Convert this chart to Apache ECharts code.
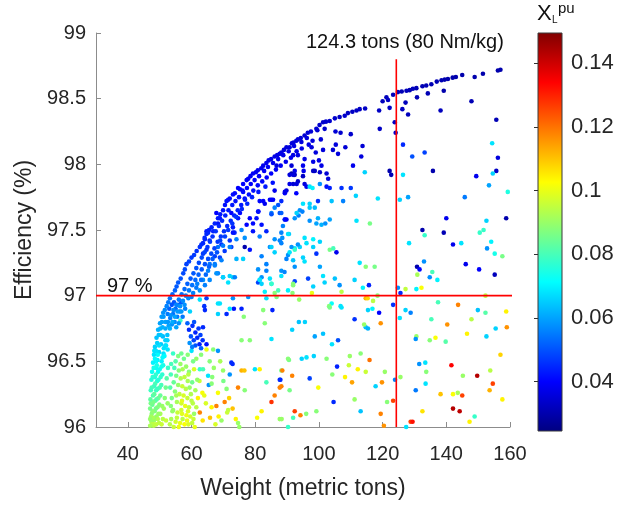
<!DOCTYPE html>
<html>
<head>
<meta charset="utf-8">
<script src="https://cdn.jsdelivr.net/npm/echarts@6/dist/echarts.min.js"></script>
<style>
  html, body { margin: 0; padding: 0; background: #ffffff; }
  #chart { width: 618px; height: 505px; }
</style>
</head>
<body>
<div id="chart"></div>
<script>
// Axis ranges and tick values
const weightRange = [30, 160];
const efficiencyRange = [96, 99];
const reactanceRange = [0.0245, 0.1495];
const weightTicks = [40, 60, 80, 100, 120, 140, 160];
const efficiencyTicks = [96, 96.5, 97, 97.5, 98, 98.5, 99];
const reactanceTicks = [0.04, 0.06, 0.08, 0.1, 0.12, 0.14];

// Design limits
const efficiencyLimit = 97;
const weightLimit = 124.3;

// Designs: [weight (t), efficiency (%), X_L (pu)]
// Upper-left (Pareto) edge
const paretoEdge = [
  [157.0,98.72,0.030],[156.2,98.715,0.030],[151.5,98.69,0.030],[148.9,98.665,0.030],[145.0,98.68,0.030],
  [143.0,98.665,0.030],[142.0,98.66,0.030],[140.5,98.65,0.030],[139.5,98.645,0.030],[138.5,98.64,0.031],
  [137.0,98.63,0.031],[135.3,98.61,0.031],[133.7,98.60,0.031],[132.5,98.595,0.031],[130.6,98.58,0.031],
  [129.5,98.575,0.032],[128.5,98.565,0.031],[127.5,98.56,0.032],[126.0,98.555,0.031],[124.8,98.55,0.032],
  [123.3,98.53,0.032],[121.2,98.51,0.032],[121.7,98.49,0.033],[120.0,98.48,0.032],[118.9,98.41,0.033],
  [122.2,98.43,0.033],[114.5,98.425,0.033],[112.8,98.42,0.033],[111.8,98.41,0.033],[110.5,98.40,0.033],
  [109.1,98.39,0.033],[108.1,98.37,0.034],[106.5,98.36,0.033],[105.0,98.35,0.034],[103.4,98.33,0.034],
  [102.2,98.325,0.034],[101.3,98.32,0.034],[100.2,98.30,0.034],[99.2,98.27,0.035],[97.5,98.25,0.035],
  [96.5,98.24,0.035],[95.5,98.22,0.035],[94.3,98.20,0.035],[93.4,98.19,0.035],[92.9,98.18,0.036],
  [92.0,98.165,0.036],[91.5,98.16,0.036],[90.8,98.13,0.036],[89.8,98.13,0.036],[89.0,98.11,0.036],
  [88.2,98.09,0.037],[87.7,98.08,0.037],[86.9,98.07,0.037],[86.1,98.06,0.037],[85.0,98.04,0.037],
  [84.2,98.03,0.037],[83.5,98.01,0.038],[82.5,97.99,0.038],[81.9,97.97,0.038],[80.8,97.955,0.038],
  [80.2,97.94,0.038],[79.3,97.93,0.039],[78.5,97.91,0.039],[77.8,97.89,0.039],[77.3,97.88,0.039],
  [76.2,97.85,0.040],[75.2,97.81,0.040],[74.6,97.82,0.040],[73.6,97.78,0.041],[73.0,97.77,0.041],
  [72.0,97.74,0.041],[71.0,97.72,0.042],[70.5,97.69,0.042],[69.9,97.65,0.042],[69.0,97.62,0.043],
  [68.3,97.59,0.043],[67.3,97.55,0.044],[66.3,97.52,0.044],[65.5,97.50,0.044],[64.7,97.47,0.045],
  [64.1,97.44,0.045],[63.6,97.40,0.045],[62.6,97.37,0.046],[61.6,97.34,0.046],[60.8,97.31,0.047],
  [60.0,97.29,0.047],[59.2,97.26,0.048],[58.4,97.24,0.048],[57.9,97.20,0.049],[57.4,97.17,0.049],
  [56.6,97.13,0.050],[55.8,97.10,0.051],[55.3,97.07,0.051],[54.8,97.04,0.052],[54.0,97.01,0.053],
  [53.2,96.98,0.054],[52.7,96.95,0.055],[52.2,96.92,0.056],[51.6,96.89,0.057],[51.1,96.87,0.058],
  [50.6,96.84,0.059],[50.1,96.79,0.060],[49.5,96.74,0.062],[49.0,96.68,0.064],[48.5,96.61,0.066],
  [48.2,96.55,0.068],[47.9,96.49,0.070],[47.6,96.42,0.073],[47.4,96.36,0.076],[47.2,96.28,0.079],
  [47.1,96.21,0.083],[47.0,96.14,0.086],[47.0,96.06,0.090],[47.0,96.01,0.092]
];

// Designs packed just inside the edge
const edgeBand = [
  [96.2,98.20,0.036],[94.5,98.17,0.036],[92.2,98.14,0.037],[90.5,98.10,0.037],[88.8,98.07,0.037],
  [87.2,98.04,0.038],[85.6,98.01,0.038],[84.0,97.98,0.039],[82.8,97.95,0.039],[81.2,97.91,0.039],
  [79.8,97.88,0.040],[78.6,97.85,0.040],[77.4,97.82,0.041],[76.2,97.79,0.041],[74.9,97.75,0.042],
  [73.8,97.72,0.042],[72.8,97.69,0.043],[71.6,97.65,0.043],[70.6,97.61,0.044],[69.6,97.57,0.045],
  [68.6,97.53,0.045],[67.6,97.49,0.046],[66.6,97.45,0.046],[65.8,97.41,0.047],[65.0,97.37,0.047],
  [64.1,97.33,0.048],[63.2,97.29,0.049],[62.3,97.25,0.049],[61.5,97.21,0.050],[60.6,97.17,0.051],
  [59.7,97.13,0.051],[58.7,97.09,0.052],[57.8,97.05,0.053],[56.9,97.01,0.054],[56.0,96.97,0.055],
  [55.2,96.93,0.056],[54.3,96.89,0.057],[53.5,96.85,0.058],[52.6,96.80,0.059],[51.8,96.75,0.061],
  [51.0,96.69,0.063],[50.4,96.63,0.065],[49.8,96.57,0.067],[49.3,96.51,0.069],[48.9,96.45,0.072],
  [48.5,96.38,0.075],[48.2,96.31,0.078],[47.9,96.24,0.081],[47.7,96.17,0.084],[47.5,96.10,0.088],
  [47.4,96.04,0.091],
  [49.2,96.35,0.075],[49.5,96.42,0.072],[48.9,96.28,0.079],[48.6,96.20,0.083],[48.4,96.12,0.087],
  [48.2,96.05,0.090],[48.1,96.01,0.093],[49.0,96.08,0.091],[49.3,96.15,0.088],[49.6,96.22,0.085],
  [50.0,96.30,0.081],[50.3,96.38,0.078],[50.6,96.46,0.074],[50.9,96.53,0.071],[51.3,96.60,0.068],
  [51.8,96.66,0.066],[49.8,96.03,0.094],[50.2,96.10,0.092],[50.6,96.02,0.096],[48.0,96.02,0.095],
  [98.0,98.18,0.036],[96.8,98.15,0.037],[94.6,98.12,0.037],[93.0,98.10,0.037],[91.2,98.05,0.038],
  [89.6,98.02,0.038],[88.0,97.99,0.039],[86.5,97.96,0.039],[85.0,97.93,0.040],[83.6,97.90,0.040],
  [82.2,97.87,0.041],[80.8,97.84,0.041],[79.4,97.80,0.042],[78.0,97.77,0.042],[76.8,97.73,0.043],
  [75.6,97.69,0.043],[74.5,97.65,0.044],[73.4,97.61,0.044],[72.3,97.57,0.045],[71.2,97.53,0.045],
  [70.2,97.49,0.046],[69.2,97.45,0.047],[68.2,97.41,0.047],[67.2,97.36,0.048],[66.2,97.32,0.049],
  [65.2,97.28,0.049],[64.2,97.24,0.050],[63.2,97.20,0.051],[62.2,97.16,0.052],[61.2,97.12,0.053],
  [60.2,97.08,0.054],[59.2,97.04,0.055],[58.2,97.00,0.056],[57.3,96.96,0.057],[56.4,96.92,0.058],
  [55.6,96.88,0.059],[54.8,96.84,0.060],[54.0,96.80,0.061],[53.2,96.75,0.062],[52.4,96.70,0.064],
  [51.8,96.62,0.066],[51.2,96.56,0.068],[50.6,96.50,0.070],[50.0,96.44,0.073],[49.6,96.36,0.076],
  [49.3,96.29,0.079],[49.0,96.21,0.082],[48.8,96.14,0.086],[48.6,96.07,0.089],
  [85.5,97.86,0.042],[83.2,97.83,0.043],[81.0,97.79,0.043],[79.0,97.75,0.044],[77.5,97.70,0.045],
  [75.8,97.66,0.045],[74.0,97.60,0.046],[72.8,97.55,0.046],[71.5,97.50,0.047],[70.5,97.45,0.048],
  [69.0,97.42,0.048],[68.0,97.33,0.050],[66.6,97.28,0.051],[65.5,97.22,0.052],[64.5,97.16,0.053],
  [63.0,97.12,0.054],[61.5,97.06,0.055],[60.5,97.02,0.056],[59.0,96.98,0.057],[57.8,96.93,0.058],
  [56.8,96.88,0.059],[58.0,96.90,0.056],
  [47.3,96.08,0.091],[47.6,96.02,0.094],[47.8,96.12,0.089],[48.0,96.19,0.086],[48.3,96.25,0.083],
  [48.6,96.33,0.080],[48.8,96.40,0.077],[49.1,96.47,0.074],[49.4,96.55,0.071],[49.8,96.62,0.068],
  [50.3,96.70,0.065],[50.9,96.76,0.062],[47.5,96.30,0.080],[47.8,96.38,0.077],[48.1,96.45,0.074],
  [48.5,96.52,0.071],[48.8,96.58,0.068],[49.2,96.64,0.066],[49.7,96.70,0.064],[50.2,96.75,0.062],
  [50.7,96.80,0.060],[51.2,96.84,0.059],[49.6,96.10,0.090],[49.9,96.17,0.087],[50.2,96.24,0.084],
  [50.5,96.32,0.080],[50.8,96.40,0.077],[51.1,96.47,0.074],[51.5,96.54,0.071],[52.0,96.62,0.068],
  [52.4,96.66,0.066],[51.0,96.06,0.094],[51.3,96.14,0.091],[51.6,96.22,0.088],[51.9,96.30,0.085],
  [52.2,96.37,0.082],[52.6,96.45,0.078],[47.2,96.18,0.086],[47.9,96.07,0.092],[48.9,96.02,0.095],
  [49.4,96.06,0.093],[50.8,96.16,0.090],[52.0,96.05,0.096],[52.5,96.18,0.090],[48.3,96.58,0.068],
  [48.9,96.50,0.071]
];

// Dense groups of light designs
const lightClusters = [
  [53.0,96.90,0.052],[53.8,96.93,0.050],[54.5,96.95,0.050],[55.0,96.90,0.053],[54.2,96.86,0.054],
  [53.3,96.83,0.055],[52.5,96.86,0.055],[55.8,96.93,0.051],[56.3,96.88,0.054],[55.5,96.84,0.055],
  [54.7,96.80,0.057],[53.8,96.78,0.058],[52.8,96.77,0.060],[56.8,96.95,0.050],[57.2,96.84,0.055],
  [51.8,96.80,0.060],[56.0,96.79,0.058],[55.2,96.76,0.060],
  [59.2,96.74,0.045],[60.3,96.77,0.046],[61.2,96.72,0.044],[62.2,96.75,0.047],[61.8,96.68,0.045],
  [60.7,96.66,0.048],[59.8,96.69,0.050],[62.8,96.70,0.048],[63.5,96.66,0.046],[62.5,96.63,0.044],
  [61.2,96.62,0.050],[60.2,96.61,0.055],[59.4,96.64,0.058],[63.0,96.60,0.052],[64.7,96.63,0.042],
  [58.7,96.79,0.052],[60.8,96.80,0.050],[63.6,96.76,0.045],
  [55.8,96.54,0.087],[55.0,96.50,0.082],[56.5,96.48,0.090],[57.6,96.52,0.085],[54.6,96.45,0.080],
  [56.0,96.43,0.088],[57.2,96.44,0.092],[58.3,96.46,0.090],[59.2,96.42,0.088],[55.2,96.39,0.086],
  [56.6,96.37,0.093],[57.8,96.38,0.095],[58.8,96.35,0.092],[54.4,96.34,0.084],[55.8,96.32,0.090],
  [57.1,96.31,0.096],[58.2,96.29,0.094],[59.4,96.30,0.090],[60.2,96.34,0.085],[54.8,96.27,0.088],
  [56.2,96.25,0.095],[57.5,96.24,0.098],[58.7,96.22,0.096],[59.8,96.25,0.093],[53.8,96.22,0.086],
  [55.4,96.19,0.092],[56.8,96.18,0.097],[58.0,96.16,0.100],[59.2,96.15,0.096],[60.4,96.18,0.094],
  [54.2,96.13,0.090],[55.6,96.11,0.096],[57.0,96.10,0.099],[58.4,96.09,0.101],[59.6,96.08,0.097],
  [53.6,96.06,0.092],[55.0,96.04,0.097],[56.4,96.03,0.100],[57.8,96.02,0.102],[59.0,96.02,0.098],
  [60.2,96.03,0.095],[54.4,96.00,0.096],[57.2,96.06,0.094],[60.8,96.10,0.090],[53.3,96.30,0.082],
  [53.5,96.40,0.080],[60.8,96.44,0.098],[61.2,96.28,0.092],
  [53.6,96.48,0.080],[54.2,96.56,0.078],[56.8,96.56,0.085],[58.8,96.55,0.088],[54.0,96.12,0.090],
  [55.4,96.07,0.095],[56.8,96.13,0.097],[58.9,96.12,0.098],[60.0,96.20,0.094],[59.0,96.40,0.094],
  [57.0,96.20,0.099],[55.2,96.24,0.092],[53.5,96.16,0.088],[56.0,96.00,0.100],[58.6,96.05,0.100],
  [60.6,96.06,0.096],[61.5,96.15,0.094],[61.8,96.36,0.090],[60.5,96.50,0.086],[53.2,96.02,0.094]
];

// Remaining designs across the field
const spreadDesigns = [
  [139.2,98.56,0.030],[147.9,98.48,0.031],[155.7,98.34,0.031],[128.0,98.38,0.032],[127.2,98.47,0.032],
  [126.2,98.42,0.033],[130.8,98.51,0.031],[134.2,98.54,0.031],[138.2,98.41,0.032],[119.1,98.27,0.033],
  [123.8,98.32,0.033],[124.1,98.24,0.034],[126.4,98.15,0.045],[129.3,98.06,0.050],[133.2,98.09,0.048],
  [135.8,97.95,0.030],[149.4,97.91,0.038],[156.2,98.05,0.036],[155.7,97.95,0.033],[154.4,98.16,0.068],
  [154.6,97.93,0.066],[114.4,97.94,0.066],[126.4,97.92,0.068],[122.2,97.95,0.030],[122.7,97.92,0.031],
  [113.3,98.06,0.036],[110.7,97.99,0.038],[113.7,98.14,0.035],[110.0,98.23,0.034],[108.3,98.13,0.035],
  [106.0,98.08,0.036],[104.4,98.11,0.035],[105.3,98.15,0.036],[106.8,98.24,0.034],[105.2,98.25,0.035],
  [101.8,98.27,0.034],[99.5,98.26,0.035],[100.6,98.19,0.035],[101.3,98.11,0.036],[100.0,98.03,0.037],
  [100.8,97.99,0.037],[97.7,98.13,0.036],[99.0,98.09,0.036],[98.2,98.02,0.037],[95.5,98.04,0.037],
  [95.0,97.99,0.038],[95.2,97.95,0.038],[91.9,98.07,0.037],[93.4,98.07,0.037],[92.4,97.95,0.038],
  [91.4,97.93,0.030],[98.7,97.95,0.034],[102.4,97.93,0.035],
  [92.4,97.92,0.032],[95.0,97.91,0.033],[93.4,97.87,0.034],[91.9,97.85,0.035],[95.5,97.85,0.036],
  [96.1,97.83,0.038],[89.8,97.80,0.036],[89.3,97.78,0.040],[92.9,97.78,0.040],[98.2,97.95,0.033],
  [100.3,97.94,0.034],[102.9,97.89,0.036],[97.1,97.83,0.068],[98.0,97.82,0.070],[100.3,97.85,0.058],
  [102.4,97.83,0.042],[103.4,97.82,0.044],[107.1,97.82,0.046],[110.0,97.82,0.047],[153.4,97.84,0.060],
  [159.3,97.79,0.075],[145.8,97.75,0.055],[128.0,97.75,0.060],[125.4,97.73,0.066],[118.5,97.74,0.068],
  [111.6,97.76,0.066],[107.6,97.72,0.056],[104.0,97.72,0.064],[99.7,97.72,0.046],[97.1,97.70,0.066],
  [95.0,97.70,0.068],[88.2,97.72,0.045],[94.0,97.65,0.058],[94.8,97.64,0.056],[97.1,97.67,0.065],
  [98.7,97.67,0.063],[87.7,97.63,0.050],[92.4,97.59,0.058],[93.6,97.61,0.056],[89.3,97.58,0.046],
  [97.1,97.57,0.058],[99.7,97.59,0.062],[99.2,97.55,0.060],[100.8,97.54,0.062],[102.0,97.55,0.058],
  [103.4,97.58,0.060],[88.7,97.53,0.056],[111.8,97.57,0.068],[116.0,97.55,0.086],[140.0,97.59,0.038],
  [158.8,97.59,0.030],[152.6,97.57,0.066],[132.5,97.50,0.030],[139.2,97.48,0.031],[151.7,97.50,0.078],
  [150.5,97.48,0.078],[133.2,97.46,0.078],[90.6,97.47,0.065],[95.5,97.44,0.068],[98.2,97.43,0.070],
  [100.3,97.41,0.066],[96.1,97.40,0.068],[94.0,97.37,0.066],[92.4,97.36,0.068],[98.2,97.37,0.066],
  [88.2,97.40,0.056],[103.4,97.35,0.086],[104.5,97.36,0.080],[105.5,97.33,0.038],[99.2,97.32,0.046],
  [90.3,97.31,0.058],[95.0,97.29,0.066],[95.5,97.26,0.068],[91.9,97.27,0.064],[128.3,97.40,0.068],
  [142.1,97.39,0.038],[144.7,97.40,0.068],[152.8,97.36,0.058],[154.1,97.41,0.070],[155.2,97.32,0.074],
  [157.6,97.30,0.086],[112.8,97.25,0.068],[114.7,97.22,0.088],[117.5,97.22,0.086],[133.0,97.26,0.058],
  [130.8,97.22,0.030],[131.6,97.20,0.040],[130.9,97.16,0.092],[135.6,97.18,0.080],[134.8,97.14,0.058],
  [137.2,97.12,0.070],[146.1,97.24,0.038],[150.3,97.20,0.040],[155.2,97.16,0.032],[88.2,97.19,0.058],
  [89.2,97.18,0.056],[92.4,97.22,0.058],[100.3,97.22,0.060],[96.6,97.13,0.048],[101.3,97.15,0.068],
  [105.0,97.13,0.064],[101.8,97.10,0.066],[92.4,97.11,0.048],[91.9,97.09,0.088],[98.2,97.07,0.066],
  [106.5,97.08,0.058],[111.2,97.12,0.066],[115.7,97.08,0.044],[113.8,97.06,0.070],[107.1,97.03,0.094],
  [97.8,97.02,0.100],[91.7,97.02,0.088],[124.8,97.06,0.058],[127.2,97.05,0.095],[130.6,97.05,0.070],
  [132.2,97.06,0.102],[125.6,97.02,0.045],[114.7,96.98,0.112],[115.3,96.98,0.108],[117.0,96.96,0.094],
  [118.4,97.00,0.088],[93.8,96.97,0.090],[106.8,96.92,0.068],[104.0,96.94,0.072],[103.2,96.92,0.088],
  [123.3,96.93,0.046],[115.4,96.89,0.066],[116.8,96.90,0.070],[118.9,96.87,0.040],[127.2,96.89,0.066],
  [128.8,96.87,0.056],[137.4,96.95,0.080],[143.7,96.93,0.118],[149.9,96.89,0.064],[152.3,96.87,0.082],
  [152.3,97.00,0.094],[158.8,96.88,0.104],
  [103.4,96.91,0.086],[107.1,96.91,0.068],[135.3,96.82,0.080],[140.3,96.78,0.116],[147.9,96.82,0.094],
  [159.0,96.76,0.116],[155.5,96.75,0.066],[146.5,96.71,0.104],[152.6,96.69,0.066],[139.8,96.65,0.082],
  [136.6,96.68,0.102],[134.8,96.66,0.088],[130.6,96.69,0.090],[130.4,96.67,0.058],[125.4,96.83,0.068],
  [119.4,96.79,0.116],[114.7,96.76,0.064],[115.4,96.75,0.062],[114.2,96.78,0.090],[111.2,96.82,0.046],
  [93.7,96.80,0.064],[95.6,96.80,0.066],[91.6,96.74,0.066],[101.3,96.71,0.064],[98.7,96.69,0.060],
  [106.0,96.66,0.050],[104.1,96.63,0.068],[109.7,96.54,0.090],[113.1,96.56,0.088],[115.9,96.51,0.120],
  [98.4,96.54,0.066],[96.1,96.53,0.068],[94.6,96.52,0.066],[90.6,96.51,0.086],[102.4,96.52,0.088],
  [105.7,96.46,0.044],[109.4,96.47,0.096],[112.2,96.44,0.104],[114.7,96.42,0.096],[104.2,96.40,0.088],
  [108.2,96.38,0.104],[110.4,96.34,0.114],[91.6,96.39,0.118],[88.2,96.43,0.086],[87.7,96.36,0.045],
  [97.1,96.37,0.048],[99.8,96.30,0.102],[90.8,96.28,0.086],[87.7,96.30,0.118],[117.8,96.31,0.066],
  [119.8,96.34,0.116],[120.7,96.42,0.090],[123.9,96.36,0.056],[125.6,96.38,0.090],[130.4,96.28,0.055],
  [131.5,96.48,0.058],[133.4,96.49,0.068],[133.7,96.42,0.088],[133.5,96.33,0.068],[141.6,96.47,0.134],
  [145.2,96.39,0.090],[149.7,96.39,0.143],[153.8,96.43,0.094],[157.0,96.55,0.108],[154.6,96.33,0.126],
  [153.6,96.28,0.112],[157.6,96.21,0.104],[138.2,96.25,0.110],[142.1,96.25,0.102],[143.6,96.26,0.092],
  [145.0,96.24,0.126],[142.1,96.14,0.143],[144.2,96.12,0.142],[148.9,96.08,0.078],[147.3,96.04,0.104],
  [132.5,96.12,0.106],[128.8,96.04,0.126],[127.4,96.00,0.068],[120.4,96.01,0.116],[119.4,96.10,0.118],
  [123.3,96.20,0.126],[121.4,96.19,0.088],[113.1,96.12,0.064],[111.2,96.21,0.090],[104.6,96.19,0.045],
  [99.2,96.12,0.088],[92.4,96.12,0.126],[94.2,96.09,0.118],[96.0,96.10,0.088],[91.9,96.07,0.080],
  [87.7,96.06,0.090],[90.3,96.00,0.078],
  [59.5,96.88,0.066],[64.2,96.89,0.045],[64.0,96.92,0.046],[68.3,96.86,0.066],[71.0,96.86,0.045],
  [73.3,96.90,0.042],[75.7,96.90,0.044],[76.4,96.84,0.088],[82.5,96.89,0.088],[85.4,96.89,0.044],
  [83.0,96.79,0.088],[56.5,96.81,0.078],[66.8,96.59,0.088],[60.0,96.58,0.068],[68.3,96.58,0.058],
  [75.7,96.66,0.088],[78.3,96.66,0.088],[85.1,96.67,0.068],[52.5,96.59,0.068],[62.6,96.44,0.078],
  [63.6,96.44,0.080],[72.9,96.48,0.045],[69.9,96.43,0.090],[75.7,96.43,0.112],[76.6,96.43,0.110],
  [79.9,96.44,0.068],[81.4,96.44,0.104],[88.5,96.43,0.118],[90.3,96.52,0.088],[65.2,96.39,0.068],
  [66.5,96.38,0.088],[65.4,96.32,0.058],[71.0,96.29,0.088],[74.6,96.30,0.118],[76.7,96.28,0.088],
  [63.4,96.26,0.102],[64.0,96.24,0.100],[68.3,96.26,0.102],[83.5,96.34,0.080],[87.9,96.36,0.045],
  [88.2,96.31,0.118],[86.1,96.24,0.118],[85.1,96.19,0.128],[70.4,96.19,0.118],[67.8,96.16,0.118],
  [66.3,96.15,0.104],[71.2,96.11,0.096],[72.9,96.14,0.110],[73.9,96.06,0.104],[74.6,96.03,0.090],
  [62.6,96.11,0.118],[69.4,96.05,0.090],[82.0,96.12,0.104],[80.6,96.07,0.102],[88.3,96.06,0.090],
  [75.0,96.00,0.090],[129.4,96.04,0.132],[64.7,96.59,0.100],[65.7,96.50,0.088],[72.5,96.49,0.045],
  [72.0,96.40,0.058],[66.3,96.33,0.088],[71.5,96.13,0.095],
  [61.5,96.52,0.090],[62.5,96.35,0.096],[63.5,96.05,0.106],[64.5,96.18,0.098],[65.8,96.07,0.110],
  [67.0,96.45,0.090],[68.5,96.08,0.104],[70.0,96.35,0.086],[62.0,96.22,0.104],[63.0,96.55,0.088],
  [69.0,96.50,0.092],[71.8,96.22,0.108],[61.0,96.00,0.100],[67.5,96.02,0.098],
  [71.5,97.73,0.042],[64.7,97.49,0.043],[67.8,97.63,0.040],[68.9,97.59,0.042],[68.3,97.55,0.042],
  [66.8,97.49,0.044],[65.2,97.48,0.045],[64.2,97.43,0.044],[65.7,97.42,0.045],[63.1,97.39,0.046],
  [64.7,97.35,0.046],[63.6,97.32,0.047],[67.3,97.30,0.048],[68.9,97.29,0.048],[65.7,97.24,0.054],
  [67.3,97.24,0.055],[68.3,97.17,0.056],[69.9,97.14,0.058],[65.7,97.12,0.057],[63.6,97.12,0.058],
  [72.5,97.63,0.040],[75.2,97.63,0.041],[74.6,97.59,0.042],[73.0,97.52,0.043],[73.5,97.48,0.044],
  [72.0,97.42,0.046],[72.5,97.37,0.047],[69.4,97.39,0.046],[70.4,97.34,0.047],[76.7,97.44,0.058],
  [76.7,97.37,0.030],[78.3,97.35,0.042],[74.1,97.28,0.062],[76.2,97.28,0.066],[78.3,97.59,0.040],
  [79.3,97.55,0.041],[81.0,97.64,0.040],[83.0,97.70,0.038],[85.1,97.73,0.038],[82.0,97.54,0.042],
  [83.5,97.49,0.044],[85.1,97.63,0.056],[88.2,97.63,0.052],[87.2,97.69,0.050],[89.3,97.58,0.042],
  [86.1,97.43,0.058],[84.6,97.37,0.058],[87.7,97.42,0.056],[90.3,97.47,0.068],[91.4,97.37,0.058],
  [93.4,97.39,0.058],[93.0,97.63,0.066],[80.9,97.20,0.058],[82.0,97.14,0.058],[83.5,97.19,0.056],
  [81.4,97.12,0.068],[73.0,97.14,0.066],[71.5,97.10,0.068],[80.9,97.10,0.048],[84.6,97.13,0.068],
  [85.1,97.09,0.070],[88.2,97.15,0.068],[90.3,97.04,0.070],[91.9,97.08,0.088],[87.2,97.04,0.080],
  [86.7,96.99,0.086],[90.8,97.33,0.068],[92.4,97.35,0.078],[83.0,97.03,0.070],[77.8,96.99,0.058],
  [73.0,96.98,0.058],[68.9,96.94,0.068],
  [76.0,97.80,0.040],[76.7,97.74,0.041],[82.5,97.72,0.040],[85.6,97.73,0.040],[89.3,97.79,0.038],
  [89.8,97.58,0.040],[86.1,97.67,0.056],[85.1,97.62,0.050],[80.9,97.64,0.042],[80.4,97.59,0.042],
  [77.3,97.54,0.040],[75.7,97.50,0.056],[79.3,97.49,0.042],[81.4,97.45,0.056],[88.2,97.48,0.056],
  [88.5,97.44,0.058],[73.0,97.48,0.042],[74.1,97.43,0.056],[72.0,97.37,0.056],[68.3,97.37,0.054],
  [69.9,97.38,0.055],[85.1,97.37,0.066],[86.1,97.33,0.066],[82.0,97.30,0.056],[83.5,97.24,0.056],
  [89.8,97.28,0.056],[69.4,97.27,0.056],[67.3,97.23,0.056],[65.2,97.19,0.056],[67.8,97.17,0.058],
  [72.0,97.15,0.066],[73.6,97.14,0.056],[69.9,97.14,0.066],[64.2,97.08,0.056],[61.8,97.09,0.056],
  [62.6,97.04,0.058],[81.4,97.12,0.068],[82.0,97.09,0.066],[85.1,97.09,0.078],[86.1,97.02,0.088],
  [83.5,96.98,0.068],[68.3,96.94,0.068],[72.0,96.90,0.068],[62.6,96.97,0.068],[60.0,96.99,0.056],
  [64.7,96.98,0.048],
  [86.7,97.99,0.036],[91.4,97.99,0.035],[91.9,97.92,0.036],[90.8,97.85,0.037],[93.0,97.85,0.036],
  [86.1,97.80,0.038],[84.6,97.73,0.040],[81.4,97.72,0.041],[90.8,97.92,0.036]
];

// MATLAB-style jet colour scale
const jetColors = ['#000080', '#0000ff', '#0080ff', '#00ffff', '#80ff80', '#ffff00', '#ff8000', '#ff0000', '#800000'];

const textColor = '#262626';
const axisColor = '#8c8c8c';
const fontFamily = '"Liberation Sans", Arial, Helvetica, sans-serif';

const chart = echarts.init(document.getElementById('chart'), null, { renderer: 'canvas' });

const gradientStops = jetColors.map((c, i) => ({ offset: i / (jetColors.length - 1), color: c }));

const option = {
  backgroundColor: '#ffffff',
  animation: false,
  textStyle: { fontFamily: fontFamily },
  grid: [
    { left: 96, top: 33, width: 414, height: 399 },
    { left: 538, top: 33, width: 24, height: 398 }
  ],
  xAxis: [
    {
      gridIndex: 0, type: 'value', min: weightRange[0], max: weightRange[1],
      name: 'Weight (metric tons)', nameLocation: 'middle', nameGap: 50,
      nameTextStyle: { color: textColor, fontSize: 23, fontFamily: fontFamily },
      axisLine: { show: true, lineStyle: { color: axisColor, width: 1 } },
      axisTick: { show: true, inside: true, length: 5, lineStyle: { color: axisColor }, customValues: weightTicks },
      axisLabel: { color: textColor, fontSize: 20, margin: 17, fontFamily: fontFamily, customValues: weightTicks },
      splitLine: { show: false }
    },
    { gridIndex: 1, type: 'value', min: 0, max: 1, show: false }
  ],
  yAxis: [
    {
      gridIndex: 0, type: 'value', min: efficiencyRange[0], max: efficiencyRange[1], interval: 0.5,
      name: 'Efficiency (%)', nameLocation: 'middle', nameGap: 57, nameRotate: 90,
      nameTextStyle: { color: textColor, fontSize: 23, fontFamily: fontFamily },
      axisLine: { show: true, lineStyle: { color: axisColor, width: 1 } },
      axisTick: { show: true, inside: true, length: 5, lineStyle: { color: axisColor } },
      axisLabel: { color: textColor, fontSize: 20, margin: 10, fontFamily: fontFamily,
        formatter: v => String(v) },
      splitLine: { show: false }
    },
    {
      gridIndex: 1, type: 'value', position: 'right',
      min: reactanceRange[0], max: reactanceRange[1],
      axisLine: { show: false },
      axisTick: { show: true, inside: true, length: 4, lineStyle: { color: '#303030' }, customValues: reactanceTicks },
      axisLabel: { color: textColor, fontSize: 22, margin: 9, fontFamily: fontFamily,
        customValues: reactanceTicks, formatter: v => String(+v.toFixed(2)) },
      splitLine: { show: false }
    }
  ],
  visualMap: {
    show: false, type: 'continuous', seriesIndex: [0, 1, 2, 3], dimension: 2,
    min: reactanceRange[0], max: reactanceRange[1],
    inRange: { color: jetColors }
  },
  series: [
    { type: 'scatter', xAxisIndex: 0, yAxisIndex: 0, data: spreadDesigns, symbolSize: 4.6, itemStyle: { opacity: 1 } },
    { type: 'scatter', xAxisIndex: 0, yAxisIndex: 0, data: lightClusters, symbolSize: 4.6, itemStyle: { opacity: 1 } },
    { type: 'scatter', xAxisIndex: 0, yAxisIndex: 0, data: edgeBand, symbolSize: 4.6, itemStyle: { opacity: 1 } },
    { type: 'scatter', xAxisIndex: 0, yAxisIndex: 0, data: paretoEdge, symbolSize: 4.6, itemStyle: { opacity: 1 } },
    {
      // 97 % efficiency limit
      type: 'line', xAxisIndex: 0, yAxisIndex: 0, clip: false, symbol: 'none', silent: true,
      data: [[weightRange[0], efficiencyLimit], [171.8, efficiencyLimit]],
      lineStyle: { color: '#ff0000', width: 1.6 }, z: 5
    },
    {
      // 124.3 t weight limit
      type: 'line', xAxisIndex: 0, yAxisIndex: 0, clip: false, symbol: 'none', silent: true,
      data: [[weightLimit, efficiencyRange[0]], [weightLimit, 98.8]],
      lineStyle: { color: '#ff0000', width: 1.6 }, z: 5
    },
    {
      // colour bar
      type: 'custom', xAxisIndex: 1, yAxisIndex: 1, silent: true,
      data: [[0, 1, reactanceRange[0], reactanceRange[1]]],
      renderItem: function (params, api) {
        const p0 = api.coord([api.value(0), api.value(3)]);
        const p1 = api.coord([api.value(1), api.value(2)]);
        return {
          type: 'rect',
          shape: { x: p0[0], y: p0[1], width: p1[0] - p0[0], height: p1[1] - p0[1] },
          style: {
            fill: new echarts.graphic.LinearGradient(0, 1, 0, 0, gradientStops),
            stroke: '#3a3a3a', lineWidth: 1
          }
        };
      }
    }
  ],
  graphic: [
    { type: 'text', left: 306, top: 32, style: { text: '124.3 tons (80 Nm/kg)', fill: '#111', font: '20px ' + fontFamily } },
    { type: 'text', left: 107, top: 276, style: { text: '97 %', fill: '#111', font: '20px ' + fontFamily } },
    { type: 'text', left: 537, top: 3, style: { text: 'X', fill: '#111', font: '22px ' + fontFamily } },
    { type: 'text', left: 552, top: 15, style: { text: 'L', fill: '#111', font: '10px ' + fontFamily } },
    { type: 'text', left: 558, top: 1, style: { text: 'pu', fill: '#111', font: '15px ' + fontFamily } }
  ]
};

chart.setOption(option);
</script>
</body>
</html>
